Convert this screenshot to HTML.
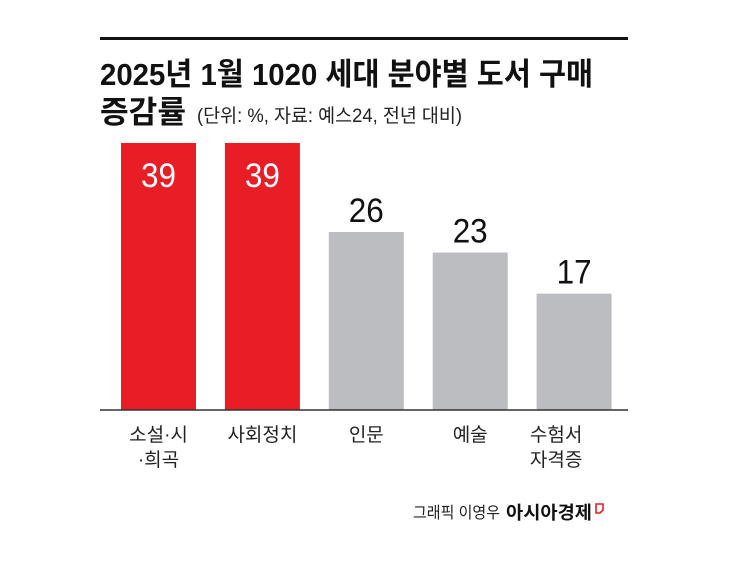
<!DOCTYPE html>
<html><head><meta charset="utf-8"><style>
html,body{margin:0;padding:0;background:#fff;}
svg{display:block;font-family:"Liberation Sans","Noto Sans CJK KR",sans-serif;}
</style></head><body>
<svg id="chart" width="745" height="565" viewBox="0 0 745 565">
  <line x1="100" y1="38.5" x2="628" y2="38.5" stroke="#111" stroke-width="3"/>
  <text x="100" y="85" font-size="31" font-weight="bold" textLength="493" lengthAdjust="spacingAndGlyphs" fill="#111">2025년 1월 1020 세대 분야별 도서 구매</text>
  <text x="100" y="123" font-size="31" font-weight="bold" textLength="86" lengthAdjust="spacingAndGlyphs" fill="#111">증감률</text>
  <text x="197" y="122" font-size="19" textLength="265" lengthAdjust="spacingAndGlyphs" fill="#222">(단위: %, 자료: 예스24, 전년 대비)</text>
  <g id="bars"></g>
  <line x1="100" y1="410" x2="628" y2="410" stroke="#333" stroke-width="1.5"/>
  <text x="413" y="518" font-size="16" textLength="87" lengthAdjust="spacingAndGlyphs" fill="#222">그래픽 이영우</text>
  <text x="506" y="519" font-size="18" font-weight="bold" textLength="86" lengthAdjust="spacingAndGlyphs" fill="#111">아시아경제</text>
  <path d="M596 504 h7 v6 l-3 3 h-4 z" fill="none" stroke="#e31e25" stroke-width="1.6"/>
</svg>
<script>
const categories = [["소설·시","·희곡"],["사회정치"],["인문"],["예술"],["수험서","자격증"]];
const values = [39, 39, 26, 23, 17];
const highlight = [true, true, false, false, false];

const baseY = 410, plotTop = 143, maxV = 39;
const y = v => baseY - (v / maxV) * (baseY - plotTop);
const x0 = 121, step = 103.9, bw = 75;
const x = i => x0 + i * step;
const NS = "http://www.w3.org/2000/svg";
const g = document.getElementById("bars");
function mk(tag, attrs){const e=document.createElementNS(NS,tag);for(const k in attrs)e.setAttribute(k,attrs[k]);return e;}
values.forEach((v,i)=>{
  const r = mk("rect",{x:x(i),y:y(v),width:bw,height:baseY-y(v),fill:highlight[i]?"#e81d25":"#bcbdc0"});
  
  
  g.appendChild(r);
  const cx = x(i) + bw/2;
  const inside = highlight[i];
  const t = mk("text",{x:cx,y:inside? y(v)+44 : y(v)-10,"font-size":34,"text-anchor":"middle",fill:inside?"#fff":"#111",textLength:35,lengthAdjust:"spacingAndGlyphs"});
  t.textContent = v;
  
  
  g.appendChild(t);
  categories[i].forEach((line,j)=>{
    const l = mk("text",{x:cx - (i===4?18:0) - (i===0?0:0),y:441 + j*25,"font-size":19,"text-anchor":"middle",fill:"#222"});
    l.textContent = line;
    
    
    g.appendChild(l);
  });
});
</script>
</body></html>
